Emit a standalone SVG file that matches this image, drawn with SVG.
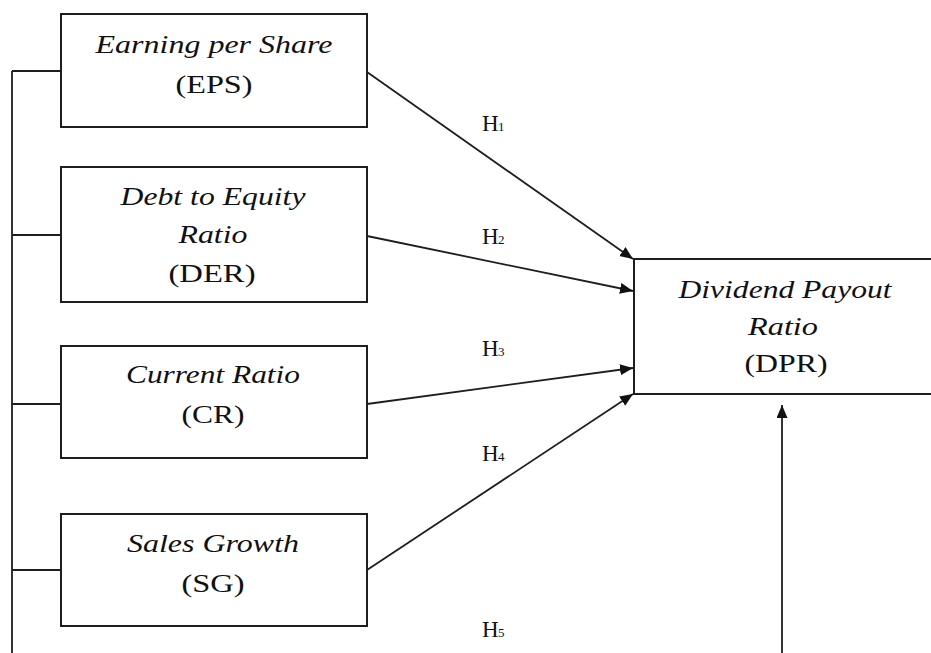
<svg xmlns="http://www.w3.org/2000/svg" width="931" height="653" viewBox="0 0 931 653">
<style>
.box{fill:#fff;stroke:#1e1e1e;stroke-width:2}
.ln{fill:none;stroke:#1e1e1e;stroke-width:1.8}
.t{font-family:"Liberation Serif","Times New Roman",serif;font-size:25px;fill:#111;text-anchor:middle}
.i{font-style:italic}
.hl{font-family:"Liberation Serif","Times New Roman",serif;font-size:23px;fill:#111}
.sub{font-size:13px}
</style>
<defs>
<marker id="ah" markerUnits="userSpaceOnUse" markerWidth="14" markerHeight="12" refX="13" refY="5.5" orient="auto">
<path d="M0,0 L13,5.5 L0,11 z" fill="#111"/>
</marker>
</defs>
<rect width="931" height="653" fill="#fff"/>
<g id="connectors">
<path class="ln" d="M12,71 V653 M12,71 H61 M12,235 H61 M12,404 H61 M12,570 H61"/>
<line class="ln" x1="367" y1="72" x2="633" y2="259" marker-end="url(#ah)"/>
<line class="ln" x1="367" y1="236" x2="633" y2="291" marker-end="url(#ah)"/>
<line class="ln" x1="367" y1="404" x2="633" y2="368" marker-end="url(#ah)"/>
<line class="ln" x1="367" y1="570" x2="633" y2="394" marker-end="url(#ah)"/>
<line class="ln" x1="782" y1="653" x2="782" y2="405" marker-end="url(#ah)"/>
</g>
<g id="labels">
<text class="hl" x="482" y="131">H</text><text class="hl sub" x="498" y="131">1</text>
<text class="hl" x="482" y="244">H</text><text class="hl sub" x="498" y="244">2</text>
<text class="hl" x="482" y="356">H</text><text class="hl sub" x="498" y="356">3</text>
<text class="hl" x="482" y="461">H</text><text class="hl sub" x="498" y="461">4</text>
<text class="hl" x="482" y="637">H</text><text class="hl sub" x="498" y="637">5</text>
</g>
<g id="eps">
<rect class="box" x="61" y="14" width="306" height="113"/>
<text class="t i" x="214" y="53" textLength="237" lengthAdjust="spacingAndGlyphs">Earning per Share</text>
<text class="t" x="214" y="93" textLength="77" lengthAdjust="spacingAndGlyphs">(EPS)</text>
</g>
<g id="der">
<rect class="box" x="61" y="167" width="306" height="135"/>
<text class="t i" x="213" y="205" textLength="185" lengthAdjust="spacingAndGlyphs">Debt to Equity</text>
<text class="t i" x="213" y="243" textLength="69" lengthAdjust="spacingAndGlyphs">Ratio</text>
<text class="t" x="212" y="282" textLength="87" lengthAdjust="spacingAndGlyphs">(DER)</text>
</g>
<g id="cr">
<rect class="box" x="61" y="346" width="306" height="112"/>
<text class="t i" x="213" y="383" textLength="174" lengthAdjust="spacingAndGlyphs">Current Ratio</text>
<text class="t" x="213" y="423" textLength="63" lengthAdjust="spacingAndGlyphs">(CR)</text>
</g>
<g id="sg">
<rect class="box" x="61" y="514" width="306" height="112"/>
<text class="t i" x="213" y="552" textLength="172" lengthAdjust="spacingAndGlyphs">Sales Growth</text>
<text class="t" x="213" y="592" textLength="63" lengthAdjust="spacingAndGlyphs">(SG)</text>
</g>
<g id="dpr">
<rect class="box" x="634" y="259" width="310" height="135"/>
<text class="t i" x="785" y="298" textLength="213" lengthAdjust="spacingAndGlyphs">Dividend Payout</text>
<text class="t i" x="783" y="335" textLength="70" lengthAdjust="spacingAndGlyphs">Ratio</text>
<text class="t" x="786" y="372" textLength="83" lengthAdjust="spacingAndGlyphs">(DPR)</text>
</g>
</svg>
